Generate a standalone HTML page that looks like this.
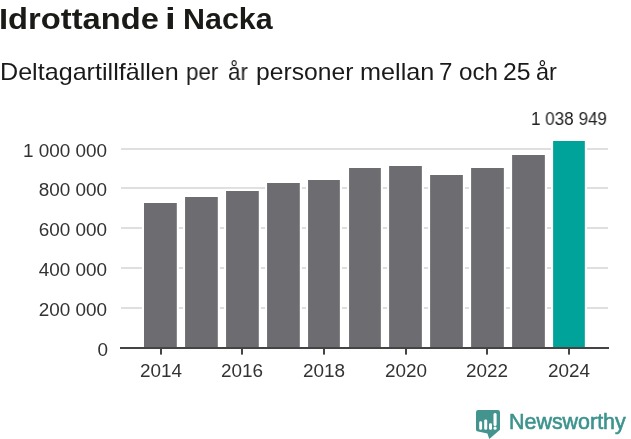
<!DOCTYPE html>
<html><head><meta charset="utf-8">
<style>
html,body{-webkit-font-smoothing:antialiased;margin:0;padding:0;background:#fff;width:631px;height:439px;overflow:hidden;position:relative;font-family:"Liberation Sans",sans-serif;}
.t{position:absolute;white-space:nowrap;transform-origin:0 0;line-height:1;}
svg{position:absolute;left:0;top:0;}
body div{will-change:transform;}
.yl{position:absolute;right:525px;color:#333;white-space:nowrap;line-height:1;transform-origin:100% 0;}
.xl{position:absolute;width:80px;text-align:center;color:#333;line-height:1;}
#val{position:absolute;color:#222;white-space:nowrap;line-height:1;}
#brand{position:absolute;color:#3d938e;white-space:nowrap;line-height:1;}
</style></head><body>
<svg width="631" height="439" viewBox="0 0 631 439">
<rect x="121" y="148" width="487" height="2" fill="#dfdfdf"/>
<rect x="121" y="187" width="487" height="2" fill="#dfdfdf"/>
<rect x="121" y="227" width="487" height="2" fill="#dfdfdf"/>
<rect x="121" y="267" width="487" height="2" fill="#dfdfdf"/>
<rect x="121" y="307" width="487" height="2" fill="#dfdfdf"/>
<rect x="141.90" y="200.90" width="37.00" height="146.10" fill="#fff"/>
<rect x="144.00" y="203.00" width="32.80" height="145.00" fill="#6d6c71"/>
<rect x="182.96" y="194.90" width="36.94" height="152.10" fill="#fff"/>
<rect x="185.06" y="197.00" width="32.74" height="151.00" fill="#6d6c71"/>
<rect x="223.96" y="188.90" width="36.94" height="158.10" fill="#fff"/>
<rect x="226.06" y="191.00" width="32.74" height="157.00" fill="#6d6c71"/>
<rect x="264.96" y="180.90" width="36.94" height="166.10" fill="#fff"/>
<rect x="267.06" y="183.00" width="32.74" height="165.00" fill="#6d6c71"/>
<rect x="305.96" y="177.90" width="36.00" height="169.10" fill="#fff"/>
<rect x="308.06" y="180.00" width="31.80" height="168.00" fill="#6d6c71"/>
<rect x="346.96" y="165.90" width="36.00" height="181.10" fill="#fff"/>
<rect x="349.06" y="168.00" width="31.80" height="180.00" fill="#6d6c71"/>
<rect x="387.00" y="163.90" width="36.96" height="183.10" fill="#fff"/>
<rect x="389.10" y="166.00" width="32.76" height="182.00" fill="#6d6c71"/>
<rect x="428.00" y="172.90" width="36.96" height="174.10" fill="#fff"/>
<rect x="430.10" y="175.00" width="32.76" height="173.00" fill="#6d6c71"/>
<rect x="469.00" y="165.90" width="36.96" height="181.10" fill="#fff"/>
<rect x="471.10" y="168.00" width="32.76" height="180.00" fill="#6d6c71"/>
<rect x="510.00" y="152.90" width="36.96" height="194.10" fill="#fff"/>
<rect x="512.10" y="155.00" width="32.76" height="193.00" fill="#6d6c71"/>
<rect x="551.00" y="138.90" width="35.93" height="208.10" fill="#fff"/>
<rect x="553.10" y="141.00" width="31.73" height="207.00" fill="#00a39a"/>
<rect x="120" y="347" width="489" height="2" fill="#444444"/>
<rect x="160" y="349" width="2" height="5.6" fill="#444444"/>
<rect x="241" y="349" width="2" height="5.6" fill="#444444"/>
<rect x="323" y="349" width="2" height="5.6" fill="#444444"/>
<rect x="405" y="349" width="2" height="5.6" fill="#444444"/>
<rect x="486" y="349" width="2" height="5.6" fill="#444444"/>
<rect x="568" y="349" width="2" height="5.6" fill="#444444"/>
<path fill="#43948f" d="M478.2 410 H497.8 Q500 410 500 412.2 V429.8 L489.3 439 L487.4 433.6 L478 431.6 Q476 431.2 476 429.4 V412.2 Q476 410 478.2 410 Z"/>
<g fill="#fff">
<rect x="479.2" y="421.3" width="2.9" height="8.5" rx="1.4"/>
<rect x="484.2" y="419.4" width="3" height="10.4" rx="1.4"/>
<rect x="489" y="423.2" width="3" height="6.6" rx="1.4"/>
<rect x="493.5" y="413" width="3.1" height="12.9" rx="1.5"/>
<rect x="493.5" y="426.6" width="3.1" height="3.2" rx="1.5"/>
</g>
</svg>
<div class="t" style="left:-1.21px;top:3.55px;font-size:30.3px;font-weight:bold;color:#1a1a17;transform:scaleX(1.0795)">Idrottande</div>
<div class="t" style="left:165.30px;top:3.55px;font-size:30.3px;font-weight:bold;color:#1a1a17;transform:scaleX(1.2721)">i</div>
<div class="t" style="left:183.35px;top:3.55px;font-size:30.3px;font-weight:bold;color:#1a1a17;transform:scaleX(1.0044)">Nacka</div>
<div class="t" style="left:0.13px;top:60.71px;font-size:23.2px;font-weight:normal;color:#1a1a1a;transform:scaleX(1.0838)">Deltagartillfällen</div>
<div class="t" style="left:186.05px;top:60.71px;font-size:23.2px;font-weight:normal;color:#1a1a1a;transform:scaleX(0.9617)">per</div>
<div class="t" style="left:227.65px;top:60.71px;font-size:23.2px;font-weight:normal;color:#1a1a1a;transform:scaleX(0.9607)">år</div>
<div class="t" style="left:256.20px;top:60.71px;font-size:23.2px;font-weight:normal;color:#1a1a1a;transform:scaleX(1.0639)">personer</div>
<div class="t" style="left:360.40px;top:60.71px;font-size:23.2px;font-weight:normal;color:#1a1a1a;transform:scaleX(1.0881)">mellan</div>
<div class="t" style="left:439.44px;top:60.71px;font-size:23.2px;font-weight:normal;color:#1a1a1a;transform:scaleX(1.0383)">7</div>
<div class="t" style="left:458.87px;top:60.71px;font-size:23.2px;font-weight:normal;color:#1a1a1a;transform:scaleX(1.0454)">och</div>
<div class="t" style="left:503.06px;top:60.71px;font-size:23.2px;font-weight:normal;color:#1a1a1a;transform:scaleX(1.0691)">25</div>
<div class="t" style="left:536.00px;top:60.71px;font-size:23.2px;font-weight:normal;color:#1a1a1a;transform:scaleX(1.0127)">år</div>
<div class="yl" style="top:142.25px;right:524.40px;font-size:18.0px;transform:scaleX(1.05)">1 000 000</div>
<div class="yl" style="top:181.25px;right:524.40px;font-size:18.0px;transform:scaleX(1.05)">800 000</div>
<div class="yl" style="top:221.25px;right:524.40px;font-size:18.0px;transform:scaleX(1.05)">600 000</div>
<div class="yl" style="top:261.25px;right:524.40px;font-size:18.0px;transform:scaleX(1.05)">400 000</div>
<div class="yl" style="top:301.25px;right:524.40px;font-size:18.0px;transform:scaleX(1.05)">200 000</div>
<div class="yl" style="top:341.25px;right:523.10px;font-size:18.0px;transform:scaleX(1.05)">0</div>
<div class="xl" style="left:121.10px;top:361.68px;font-size:18.0px;transform:scaleX(1.05)">2014</div>
<div class="xl" style="left:202.10px;top:361.68px;font-size:18.0px;transform:scaleX(1.05)">2016</div>
<div class="xl" style="left:284.10px;top:361.68px;font-size:18.0px;transform:scaleX(1.05)">2018</div>
<div class="xl" style="left:366.10px;top:361.68px;font-size:18.0px;transform:scaleX(1.05)">2020</div>
<div class="xl" style="left:447.10px;top:361.68px;font-size:18.0px;transform:scaleX(1.05)">2022</div>
<div class="xl" style="left:529.10px;top:361.68px;font-size:18.0px;transform:scaleX(1.05)">2024</div>
<div id="val" style="left:531.02px;top:111.10px;font-size:17.5px;transform:scaleX(0.9758);transform-origin:0 0">1 038 949</div>
<div id="brand" style="left:508.83px;top:410.89px;font-size:21.2px;-webkit-text-stroke:0.6px #3d938e;transform:scaleX(1.0120);transform-origin:0 0">Newsworthy</div>
</body></html>
